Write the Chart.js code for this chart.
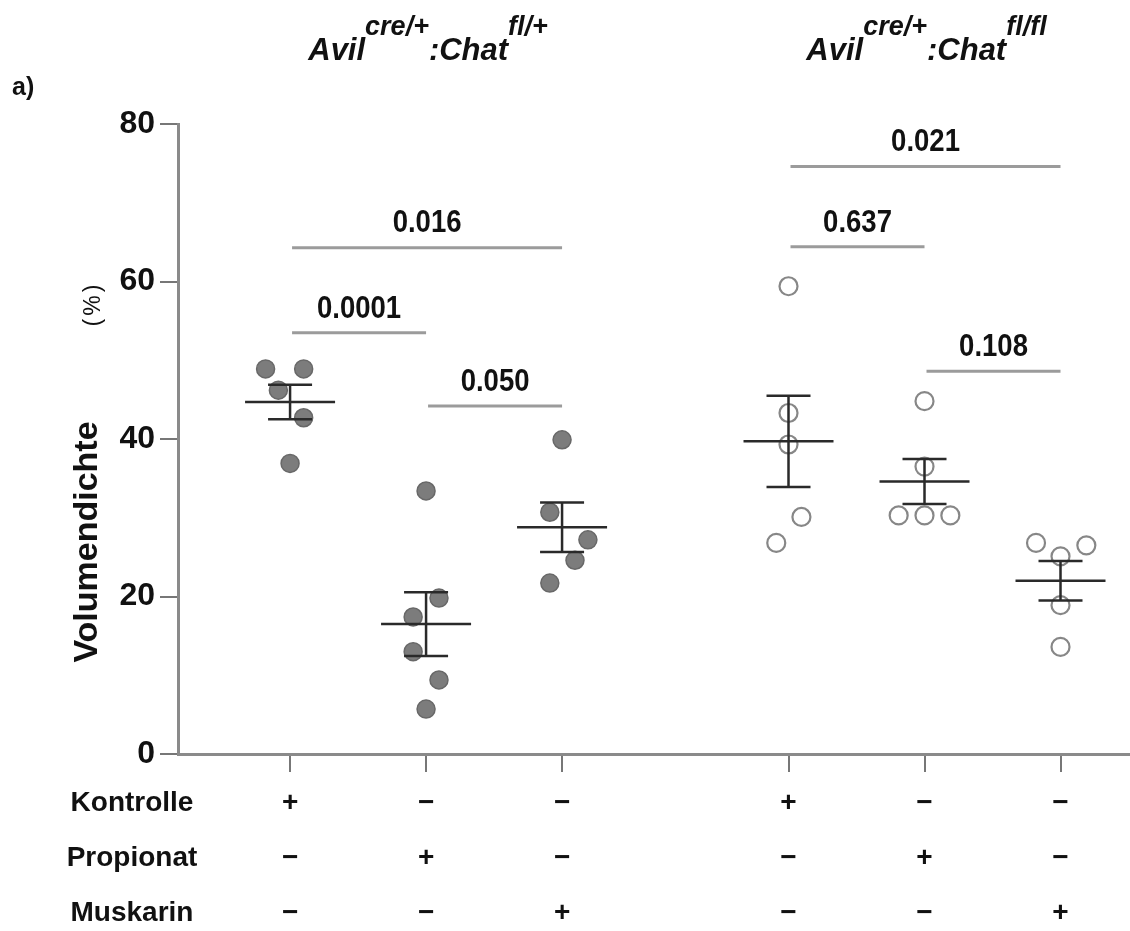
<!DOCTYPE html>
<html>
<head>
<meta charset="utf-8">
<title>Volumendichte</title>
<script src="https://cdn.jsdelivr.net/npm/chart.js@4.4.1/dist/chart.umd.min.js"></script>
<style>
  html, body { margin: 0; padding: 0; background: #fff; }
  #wrap { width: 1130px; height: 931px; position: relative; }
</style>
</head>
<body>
<div id="wrap"><canvas id="chart"></canvas></div>
<script>
// values (Volumendichte in %)
const kontrolleHet = [48.9, 48.9, 46.2, 42.7, 36.9];
const propionatHet = [33.4, 19.8, 17.4, 13.0, 9.4, 5.7];
const muskarinHet = [39.9, 30.7, 27.2, 24.6, 21.7];
const kontrolleKo = [59.4, 43.3, 39.3, 30.1, 26.8];
const propionatKo = [44.8, 36.5, 30.3, 30.3, 30.3];
const muskarinKo = [26.8, 26.5, 25.1, 18.9, 13.6];

const groupMeans = [44.7, 16.5, 28.8, 39.7, 34.6, 22.0];
const groupSem = [2.2, 4.05, 3.15, 5.8, 2.85, 2.5];

// treatment table under the axis
const rowNames = ["Kontrolle", "Propionat", "Muskarin"];
const rowKontrolle = ["+", "\u2212", "\u2212", "+", "\u2212", "\u2212"];
const rowPropionat = ["\u2212", "+", "\u2212", "\u2212", "+", "\u2212"];
const rowMuskarin = ["\u2212", "\u2212", "+", "\u2212", "\u2212", "+"];

// p values between groups
const pFrom = [0, 0, 1, 3, 3, 4];
const pTo = [1, 2, 2, 4, 5, 5];
const pLevel = [53.5, 64.3, 44.2, 64.4, 74.6, 48.6];
const pText = ["0.0001", "0.016", "0.050", "0.637", "0.021", "0.108"];

const yTicks = [0, 20, 40, 60, 80];

// layout: group slots on the x scale and horizontal spread of the dots
const groupPos = [1, 2, 3, 4.665, 5.665, 6.665];
const jitter = [
  [-0.18, 0.1, -0.086, 0.1, 0],
  [0, 0.095, -0.095, -0.095, 0.095, 0],
  [0, -0.09, 0.19, 0.095, -0.09],
  [0, 0, 0, 0.095, -0.09],
  [0, 0, -0.19, 0, 0.19],
  [-0.18, 0.19, 0, 0, 0],
];

const sans = "'Liberation Sans', Arial, sans-serif";

function toPoints(groups, offset) {
  const pts = [];
  groups.forEach((vals, g) => {
    vals.forEach((v, i) => {
      pts.push({ x: groupPos[g + offset] + jitter[g + offset][i], y: v });
    });
  });
  return pts;
}

// text squeezed horizontally, the figure uses a condensed face
function narrowText(ctx, text, x, y, sx) {
  ctx.save();
  ctx.translate(x, y);
  ctx.scale(sx, 1);
  ctx.fillText(text, 0, 0);
  ctx.restore();
}

// mean, SEM, significance bars and all the free text
const overlay = {
  id: "overlay",
  afterDatasetsDraw(chart) {
    const ctx = chart.ctx;
    const sx = chart.scales.x;
    const sy = chart.scales.y;
    ctx.save();

    // mean +- SEM
    ctx.strokeStyle = "#2a2a2a";
    ctx.lineWidth = 2.5;
    groupMeans.forEach((m, i) => {
      const cx = sx.getPixelForValue(groupPos[i]);
      const ym = sy.getPixelForValue(m);
      const yt = sy.getPixelForValue(m + groupSem[i]);
      const yb = sy.getPixelForValue(m - groupSem[i]);
      ctx.beginPath();
      ctx.moveTo(cx - 45, ym); ctx.lineTo(cx + 45, ym);
      ctx.moveTo(cx, yt); ctx.lineTo(cx, yb);
      ctx.moveTo(cx - 22, yt); ctx.lineTo(cx + 22, yt);
      ctx.moveTo(cx - 22, yb); ctx.lineTo(cx + 22, yb);
      ctx.stroke();
    });

    // p value bars
    ctx.textAlign = "center";
    ctx.textBaseline = "middle";
    ctx.font = "bold 32px " + sans;
    pText.forEach((t, i) => {
      const x1 = sx.getPixelForValue(groupPos[pFrom[i]]) + 2;
      const x2 = sx.getPixelForValue(groupPos[pTo[i]]);
      const y = sy.getPixelForValue(pLevel[i]);
      ctx.strokeStyle = "#9b9b9b";
      ctx.lineWidth = 3;
      ctx.beginPath();
      ctx.moveTo(x1, y); ctx.lineTo(x2, y);
      ctx.stroke();
      ctx.fillStyle = "#111";
      narrowText(ctx, t, (x1 + x2) / 2, y - 24, 0.86);
    });

    // genotype headers
    function header(cx, sup2) {
      const big = "italic bold 31px " + sans;
      const small = "italic bold 27px " + sans;
      const parts = [["Avil", big, 60], ["cre/+", small, 35], [":Chat", big, 60], [sup2, small, 35]];
      let w = 0;
      parts.forEach(p => { ctx.font = p[1]; w += ctx.measureText(p[0]).width; });
      let x = cx - w / 2;
      ctx.textAlign = "left";
      ctx.textBaseline = "alphabetic";
      ctx.fillStyle = "#111";
      parts.forEach(p => {
        ctx.font = p[1];
        ctx.fillText(p[0], x, p[2]);
        x += ctx.measureText(p[0]).width;
      });
    }
    header(sx.getPixelForValue(groupPos[1]) + 2, "fl/+");
    header(sx.getPixelForValue(groupPos[4]) + 2, "fl/fl");

    // panel letter
    ctx.font = "bold 25px " + sans;
    ctx.textAlign = "left";
    ctx.textBaseline = "middle";
    ctx.fillText("a)", 12, 88);

    // y title
    ctx.save();
    ctx.translate(88, 542);
    ctx.rotate(-Math.PI / 2);
    ctx.textAlign = "center";
    ctx.font = "bold 34px " + sans;
    ctx.fillText("Volumendichte", 0, 0);
    ctx.restore();
    ctx.save();
    ctx.translate(94, 304);
    ctx.rotate(-Math.PI / 2);
    ctx.textAlign = "center";
    ctx.font = "23px " + sans;
    ctx.letterSpacing = "3px";
    ctx.fillText("(%)", 0, 0);
    ctx.restore();

    // row names of the treatment table
    ctx.font = "bold 28px " + sans;
    ctx.textAlign = "center";
    const rowY = [803, 858, 913];
    rowNames.forEach((n, i) => ctx.fillText(n, 132, rowY[i]));

    ctx.restore();
  }
};

new Chart(document.getElementById("chart"), {
  type: "scatter",
  data: {
    datasets: [
      {
        label: "Avil cre/+ : Chat fl/+",
        data: toPoints([kontrolleHet, propionatHet, muskarinHet], 0),
        pointRadius: 9,
        pointBackgroundColor: "#7c7c7c",
        pointBorderColor: "#686868",
        pointBorderWidth: 1.5,
        clip: false,
      },
      {
        label: "Avil cre/+ : Chat fl/fl",
        data: toPoints([kontrolleKo, propionatKo, muskarinKo], 3),
        pointRadius: 9,
        pointBackgroundColor: "rgba(0,0,0,0)",
        pointBorderColor: "#878787",
        pointBorderWidth: 2.2,
        clip: false,
      },
    ],
  },
  options: {
    responsive: true,
    maintainAspectRatio: false,
    animation: false,
    layout: { autoPadding: false, padding: { top: 124, left: 0, right: 0, bottom: 0 } },
    plugins: {
      legend: { display: false },
      tooltip: { enabled: false },
    },
    scales: {
      x: {
        type: "linear",
        min: 0.176,
        max: 7.176,
        afterBuildTicks: (axis) => {
          axis.ticks = groupPos.map((v) => ({ value: v }));
        },
        afterFit: (axis) => {
          axis.height = 177;
        },
        ticks: {
          autoSkip: false,
          maxRotation: 0,
          padding: 4,
          color: "#111",
          font: { family: sans, size: 28, weight: "bold", lineHeight: 55 / 28 },
          callback: (v, i) => [rowKontrolle[i], rowPropionat[i], rowMuskarin[i]],
        },
        grid: { drawOnChartArea: false, tickLength: 18, color: "#777", lineWidth: 2 },
        border: { color: "#8a8a8a", width: 3 },
      },
      y: {
        min: 0,
        max: 80,
        afterBuildTicks: (axis) => {
          axis.ticks = yTicks.map((v) => ({ value: v }));
        },
        afterFit: (axis) => {
          axis.width = 178;
        },
        ticks: {
          padding: 5,
          color: "#111",
          font: { family: sans, size: 32, weight: "bold" },
        },
        grid: { drawOnChartArea: false, tickLength: 18, color: "#777", lineWidth: 2 },
        border: { color: "#8a8a8a", width: 3 },
      },
    },
  },
  plugins: [overlay],
});
</script>
</body>
</html>
